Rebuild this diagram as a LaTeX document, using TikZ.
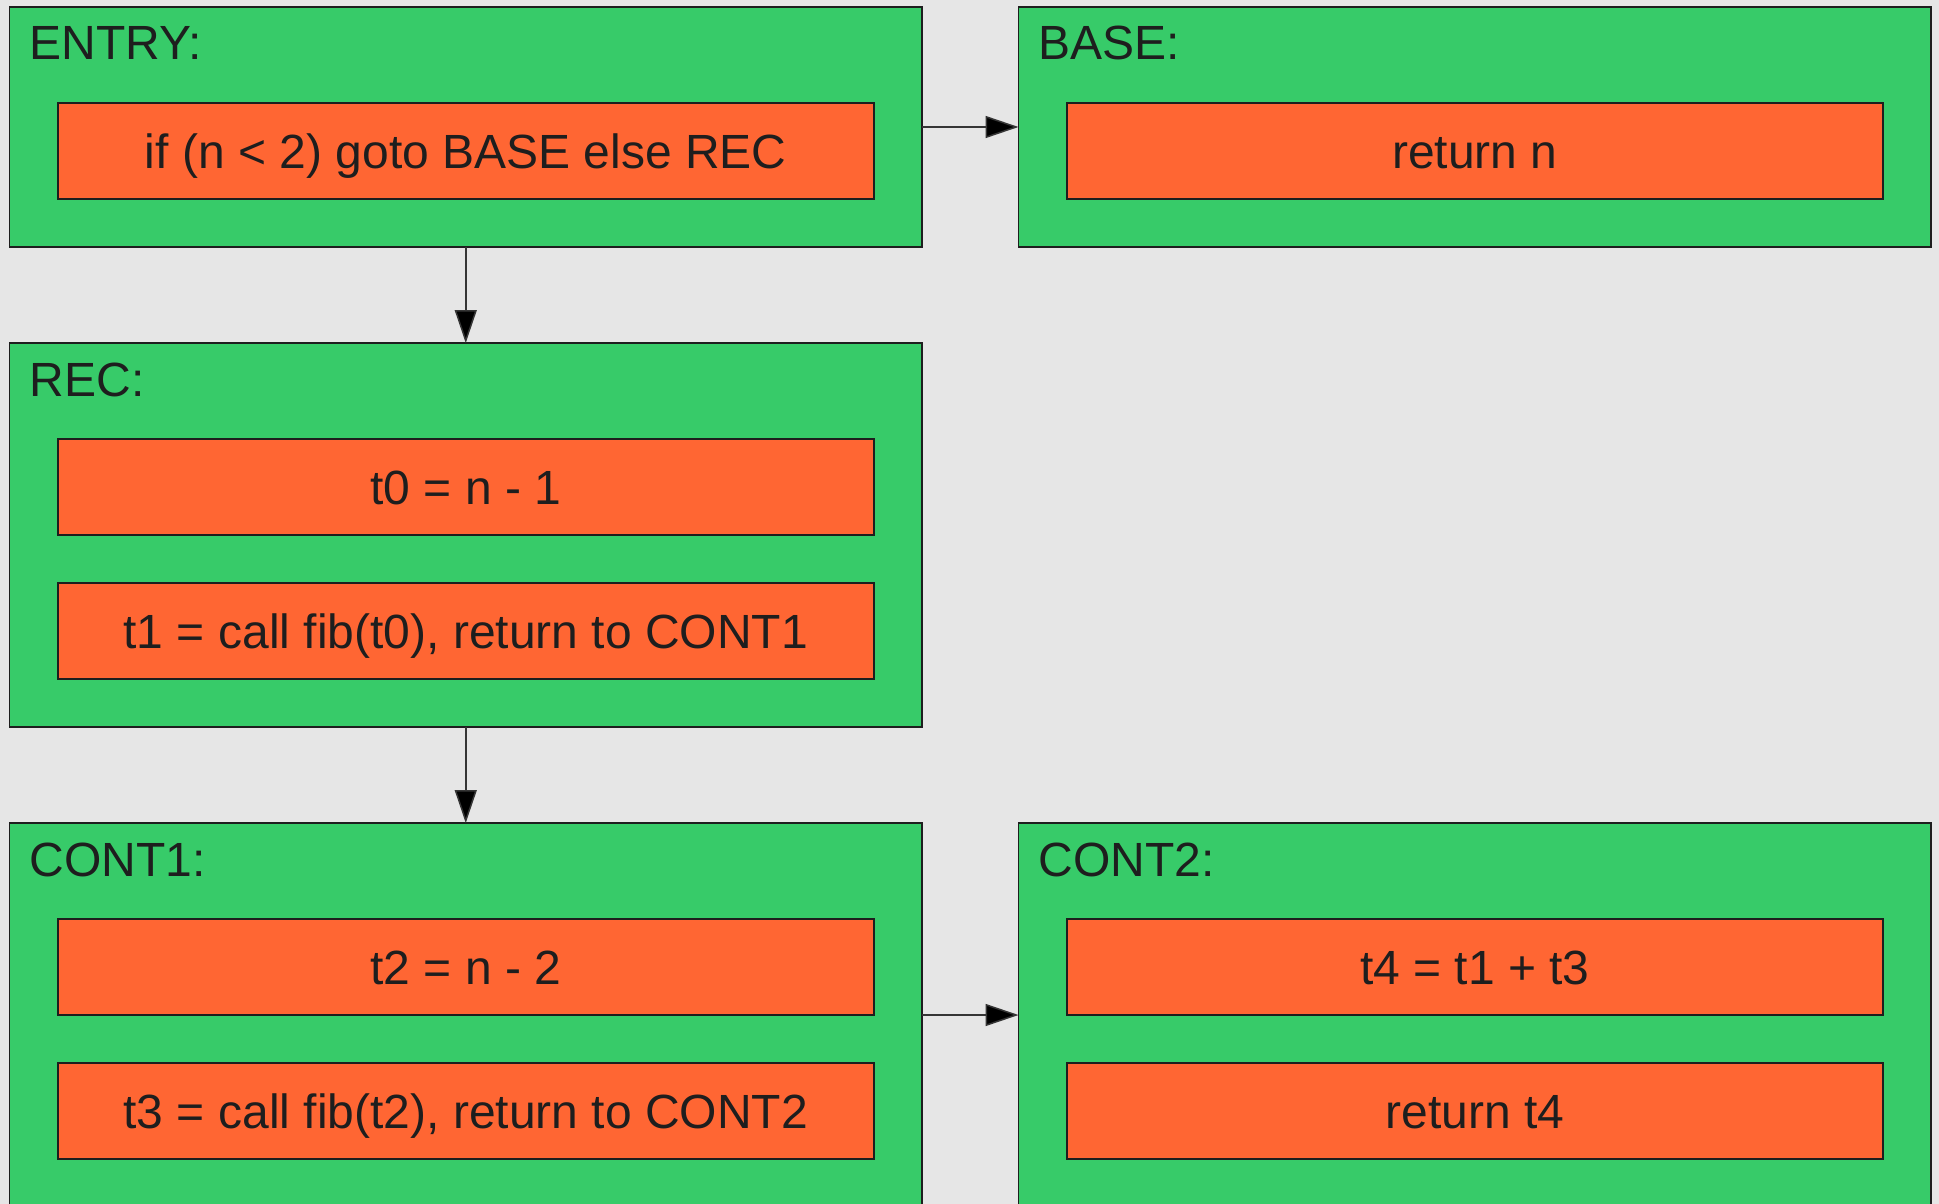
\documentclass[tikz,border=0pt]{standalone}
\usepackage{fontspec}
\setmainfont{Liberation Sans}
\usetikzlibrary{arrows.meta,calc}
\definecolor{bggrey}{HTML}{E6E6E6}
\definecolor{blockgreen}{HTML}{37CB69}
\definecolor{instrorange}{HTML}{FF6633}
\definecolor{inkdark}{HTML}{1E1E1E}
\begin{document}
\begin{tikzpicture}[x=1pt,y=-1pt,
  block/.style={rectangle, draw=inkdark, line width=1.5pt, fill=blockgreen,
    inner sep=0pt, outer sep=0pt, anchor=north west, minimum width=912.5pt},
  instr/.style={rectangle, draw=inkdark, line width=1.5pt, fill=instrorange,
    inner sep=0pt, minimum width=816pt, minimum height=96pt,
    text height=34.4pt, text depth=0pt,
    font=\fontsize{48}{58}\selectfont, text=inkdark},
  blocktitle/.style={anchor=base west, inner sep=0pt,
    font=\fontsize{48}{58}\selectfont, text=inkdark},
  conn/.style={draw=inkdark!90, line width=1.5pt,
    -{Triangle[length=33pt,width=22pt,fill=black]}}
]
% canvas
\fill[bggrey] (0,0) rectangle (1939,1204);
\clip (0,0) rectangle (1939,1204);

% basic blocks
\node[block, minimum height=240pt] (entry) at (9.5,7) {};
\node[block, minimum height=240pt] (base)  at (1018.5,7) {};
\node[block, minimum height=384pt] (rec)   at (9.5,343) {};
\node[block, minimum height=384pt] (cont1) at (9.5,823) {};
\node[block, minimum height=384pt] (cont2) at (1018.5,823) {};

% block labels
\node[blocktitle] (entryt) at ($(entry.north west)+(20,53)$) {ENTRY:};
\node[blocktitle] (baset)  at ($(base.north west)+(20,53)$)  {BASE:};
\node[blocktitle] (rect)   at ($(rec.north west)+(20,53)$)   {REC:};
\node[blocktitle] (cont1t) at ($(cont1.north west)+(20,53)$) {CONT1:};
\node[blocktitle] (cont2t) at ($(cont2.north west)+(20,53)$) {CONT2:};

% instructions
\node[instr] (entry1) at ($(entry.north)+(0,144)$) {if (n < 2) goto BASE else REC};
\node[instr] (base1)  at ($(base.north)+(0,144)$)  {return n};
\node[instr] (rec1)   at ($(rec.north)+(0,144)$)   {t0 = n - 1};
\node[instr] (rec2)   at ($(rec.north)+(0,288)$)   {t1 = call fib(t0), return to CONT1};
\node[instr] (cont11) at ($(cont1.north)+(0,144)$) {t2 = n - 2};
\node[instr] (cont12) at ($(cont1.north)+(0,288)$) {t3 = call fib(t2), return to CONT2};
\node[instr] (cont21) at ($(cont2.north)+(0,144)$) {t4 = t1 + t3};
\node[instr] (cont22) at ($(cont2.north)+(0,288)$) {return t4};

% control flow
\draw[conn] (entry.east)  -- (base.west);
\draw[conn] (entry.south) -- (rec.north);
\draw[conn] (rec.south)   -- (cont1.north);
\draw[conn] (cont1.east)  -- (cont2.west);
\end{tikzpicture}
\end{document}
